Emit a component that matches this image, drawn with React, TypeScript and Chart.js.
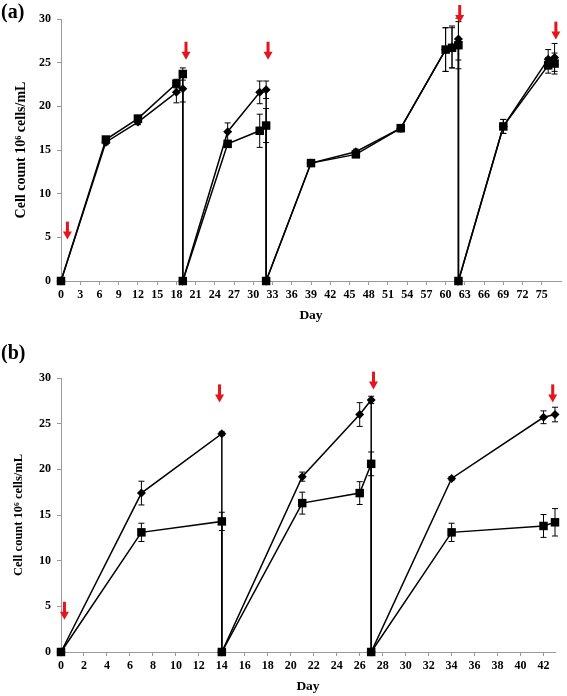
import React, { useEffect, useRef } from "react";
import { Chart, registerables } from "chart.js";
Chart.register(...registerables);

// ---------- Panel (a) ----------
const aDays = [0, 7, 12, 18, 19, 19, 26, 31, 32, 32, 39, 46, 53, 60, 61, 62, 62, 69, 76, 77];
const aDiamond = [0, 15.9, 18.2, 21.6, 22.0, 0, 17.1, 21.6, 21.9, 0, 13.5, 14.8, 17.5, 26.5, 26.8, 27.7, 0, 17.7, 25.4, 25.6];
const aDiamondSD = [0, 0.3, 0.3, 1.2, 1.5, 0, 1.0, 1.3, 1.0, 0, 0.3, 0.3, 0.4, 2.5, 2.4, 2.4, 0, 0.8, 1.1, 1.6];
const aSquare = [0, 16.2, 18.6, 22.6, 23.7, 0, 15.7, 17.2, 17.8, 0, 13.5, 14.5, 17.5, 26.5, 26.7, 27.0, 0, 17.7, 24.7, 24.9];
const aSquareSD = [0, 0.2, 0.3, 0.5, 0.7, 0, 0.3, 1.9, 1.95, 0, 0.3, 0.3, 0.4, 2.5, 2.3, 2.7, 0, 0.8, 0.9, 1.2];
const aArrows = [[1, 6.8], [19.5, 27.4], [32.3, 27.4], [62.2, 31.6], [77.2, 29.7]];
const aXTicks = [0, 3, 6, 9, 12, 15, 18, 21, 24, 27, 30, 33, 36, 39, 42, 45, 48, 51, 54, 57, 60, 63, 66, 69, 72, 75];

// ---------- Panel (b) ----------
const bDays = [0, 7, 14, 14, 21, 26, 27, 27, 34, 42, 43];
const bDiamond = [0, 17.4, 23.9, 0, 19.2, 26.0, 27.6, 0, 19.0, 25.7, 26.0];
const bDiamondSD = [0, 1.3, 0.2, 0, 0.5, 1.3, 0.4, 0, 0.2, 0.7, 0.8];
const bSquare = [0, 13.1, 14.3, 0, 16.3, 17.4, 20.6, 0, 13.1, 13.8, 14.2];
const bSquareSD = [0, 1.0, 1.0, 0, 1.2, 1.25, 1.3, 0, 1.0, 1.25, 1.5];
const bArrows = [[0.3, 5.5], [13.8, 29.3], [27.2, 30.7], [42.8, 29.3]];
const bXTicks = [0, 2, 4, 6, 8, 10, 12, 14, 16, 18, 20, 22, 24, 26, 28, 30, 32, 34, 36, 38, 40, 42];

const yTicks = [0, 5, 10, 15, 20, 25, 30];
const yTitle = "Cell count 10\u2076 cells/mL";
const xTitle = "Day";

const SERIF = "'Liberation Serif', 'Times New Roman', serif";
const AXIS_GRAY = "#9a9a9a";

const overlayPlugin = {
  id: "overlay",
  afterDatasetsDraw(chart: any) {
    const ctx = chart.ctx;
    const xs = chart.scales.x;
    const ys = chart.scales.y;
    ctx.save();
    // error bars
    chart.data.datasets.forEach((ds: any, di: number) => {
      const meta = chart.getDatasetMeta(di);
      ctx.strokeStyle = "#000";
      ctx.lineWidth = 1;
      ds.data.forEach((p: any, i: number) => {
        const sd = ds.errors[i];
        if (!sd) return;
        const px = meta.data[i].x;
        const y1 = ys.getPixelForValue(p.y - sd);
        const y2 = ys.getPixelForValue(p.y + sd);
        ctx.beginPath();
        ctx.moveTo(px, y1);
        ctx.lineTo(px, y2);
        ctx.moveTo(px - 3, y1);
        ctx.lineTo(px + 3, y1);
        ctx.moveTo(px - 3, y2);
        ctx.lineTo(px + 3, y2);
        ctx.stroke();
      });
    });
    // red arrows
    const arrows = chart.options.plugins.overlay.arrows;
    ctx.fillStyle = "#e8141b";
    arrows.forEach((a: number[]) => {
      const px = xs.getPixelForValue(a[0]);
      const py = ys.getPixelForValue(a[1]);
      ctx.fillRect(px - 1.5, py, 3, 11);
      ctx.beginPath();
      ctx.moveTo(px - 4.5, py + 10);
      ctx.lineTo(px + 4.5, py + 10);
      ctx.lineTo(px, py + 18);
      ctx.closePath();
      ctx.fill();
    });
    ctx.restore();
  },
};

function makeConfig(p: any) {
  const ds = (vals: number[], errs: number[], style: string, r: number) => ({
    data: p.days.map((d: number, i: number) => ({ x: d, y: vals[i] })),
    errors: errs,
    borderColor: "#000",
    backgroundColor: "#000",
    borderWidth: 1.5,
    pointStyle: style,
    pointRadius: r,
    pointHoverRadius: r,
    pointBorderWidth: 0,
    pointBackgroundColor: "#000",
    tension: 0,
    clip: false,
  });
  return {
    type: "line",
    data: {
      datasets: [
        ds(p.diamond, p.diamondSD, "rectRot", 4.5),
        ds(p.square, p.squareSD, "rect", 6),
      ],
    },
    options: {
      animation: false,
      responsive: false,
      events: [],
      layout: { padding: { top: p.padTop, right: p.padRight, left: 0, bottom: 0 } },
      plugins: {
        legend: { display: false },
        tooltip: { enabled: false },
        overlay: { arrows: p.arrows },
      },
      scales: {
        x: {
          type: "linear",
          min: 0,
          max: p.xMax,
          afterBuildTicks: (s: any) => {
            s.ticks = p.xTicks.map((v: number) => ({ value: v }));
          },
          afterFit: (s: any) => {
            s.height = p.xAxisH;
          },
          ticks: {
            autoSkip: false,
            maxRotation: 0,
            minRotation: 0,
            padding: 3,
            color: "#000",
            font: { family: SERIF, size: 12, weight: "bold" },
          },
          grid: {
            drawOnChartArea: false,
            drawTicks: true,
            tickLength: 4,
            color: AXIS_GRAY,
          },
          border: { display: true, color: AXIS_GRAY, width: 1 },
          title: {
            display: true,
            text: xTitle,
            color: "#000",
            font: { family: SERIF, size: 13.5, weight: "bold" },
            padding: { top: 0, bottom: p.xTitlePad },
          },
        },
        y: {
          type: "linear",
          min: 0,
          max: 30,
          afterBuildTicks: (s: any) => {
            s.ticks = yTicks.map((v: number) => ({ value: v }));
          },
          afterFit: (s: any) => {
            s.width = 61;
          },
          ticks: {
            padding: 6,
            color: "#000",
            font: { family: SERIF, size: 12, weight: "bold" },
          },
          grid: {
            drawOnChartArea: false,
            drawTicks: true,
            tickLength: 4,
            color: AXIS_GRAY,
          },
          border: { display: true, color: AXIS_GRAY, width: 1 },
          title: {
            display: true,
            text: yTitle,
            color: "#000",
            font: { family: SERIF, size: p.yTitleSize, weight: "bold" },
            padding: { top: p.yTitlePad, bottom: 0 },
          },
        },
      },
    },
    plugins: [overlayPlugin],
  };
}

function Panel(props: any) {
  const ref = useRef<HTMLCanvasElement>(null);
  useEffect(() => {
    const chart = new Chart(ref.current as HTMLCanvasElement, makeConfig(props.cfg) as any);
    return () => chart.destroy();
  }, []);
  return (
    <div style={{ position: "absolute", left: 0, top: props.top, width: 567, height: props.height }}>
      <canvas ref={ref} width={567} height={props.height} style={{ display: "block" }} />
      <div
        style={{
          position: "absolute",
          left: 1,
          top: props.labelTop,
          fontFamily: SERIF,
          fontWeight: "bold",
          fontSize: 20,
          lineHeight: "20px",
          color: "#000",
        }}
      >
        {props.label}
      </div>
    </div>
  );
}

export default function App() {
  const cfgA = {
    days: aDays,
    diamond: aDiamond,
    diamondSD: aDiamondSD,
    square: aSquare,
    squareSD: aSquareSD,
    arrows: aArrows,
    xTicks: aXTicks,
    xMax: 78,
    padTop: 19,
    padRight: 2,
    xAxisH: 49,
    xTitlePad: 6,
    yTitleSize: 14,
    yTitlePad: 13,
  };
  const cfgB = {
    days: bDays,
    diamond: bDiamond,
    diamondSD: bDiamondSD,
    square: bSquare,
    squareSD: bSquareSD,
    arrows: bArrows,
    xTicks: bXTicks,
    xMax: 43,
    padTop: 48,
    padRight: 12,
    xAxisH: 44,
    xTitlePad: 1,
    yTitleSize: 12.5,
    yTitlePad: 11,
  };
  return (
    <div style={{ position: "absolute", left: 0, top: 0, width: 567, height: 696, background: "#fff" }}>
      <Panel top={0} height={330} cfg={cfgA} label="(a)" labelTop={1} />
      <Panel top={330} height={366} cfg={cfgB} label="(b)" labelTop={12} />
    </div>
  );
}
